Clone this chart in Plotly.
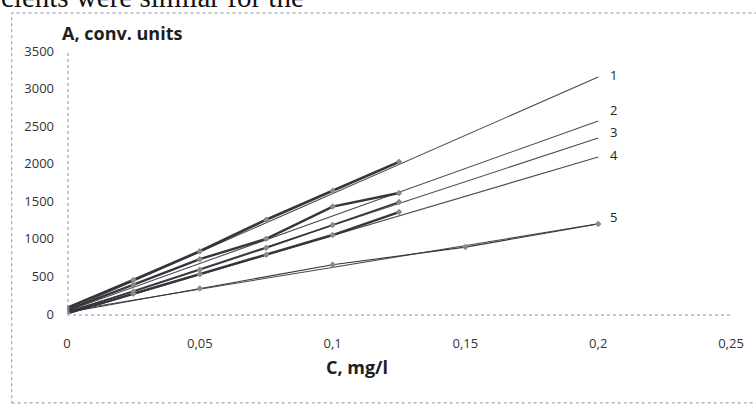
import plotly.graph_objects as go

# ---- data ----
conc = [0, 0.025, 0.05, 0.075, 0.1, 0.125]
s1 = [80, 452, 835, 1255, 1640, 2025]
s2 = [50, 390, 730, 1000, 1430, 1610]
s3 = [30, 300, 590, 880, 1184, 1490]
s4 = [10, 270, 530, 790, 1051, 1357]
conc5 = [0, 0.05, 0.1, 0.15, 0.2]
s5 = [20, 340, 655, 890, 1198]

trend_x = [0, 0.2]
t1 = [50, 3154]
t2 = [40, 2569]
t3 = [20, 2342]
t4 = [0, 2089]
t5 = [40, 1200]

labels = ["1", "2", "3", "4", "5"]
label_y = [3180, 2720, 2420, 2110, 1290]

x_ticks = [0, 0.05, 0.1, 0.15, 0.2, 0.25]
x_ticktext = ["0", "0,05", "0,1", "0,15", "0,2", "0,25"]
y_ticks = [0, 500, 1000, 1500, 2000, 2500, 3000, 3500]

LINE = "#34353b"
TREND = "#4a4b52"
MARK = "#8a8a8a"
DOT = "#8a8f9c"

fig = go.Figure()

for tv in [t1, t2, t3, t4, t5]:
    fig.add_trace(go.Scatter(x=trend_x, y=tv, mode="lines",
                             line=dict(color=TREND, width=1.1),
                             showlegend=False, hoverinfo="skip"))

for sv, w in [(s1, 2.6), (s2, 2.4), (s3, 1.6), (s4, 2.4)]:
    fig.add_trace(go.Scatter(x=conc, y=sv, mode="lines+markers",
                             line=dict(color=LINE, width=w),
                             marker=dict(symbol="diamond", size=5, color=MARK),
                             showlegend=False))
fig.add_trace(go.Scatter(x=conc5, y=s5, mode="lines+markers",
                         line=dict(color=LINE, width=1.1),
                         marker=dict(symbol="diamond", size=5, color=MARK),
                         showlegend=False))

for lab, ly in zip(labels, label_y):
    fig.add_annotation(x=0.2035, y=ly, xref="x", yref="y", text=lab,
                       showarrow=False, xanchor="left", yanchor="middle",
                       font=dict(family="Open Sans", size=13, color="#222"))

# axis lines (dotted)
fig.add_shape(type="line", xref="paper", yref="paper", x0=0.0015, x1=0.0015, y0=0, y1=0.993,
              line=dict(color=DOT, width=1, dash="dot"))
fig.add_shape(type="line", xref="paper", yref="paper", x0=0, x1=1.003, y0=-0.004, y1=-0.004,
              line=dict(color=DOT, width=1, dash="dot"))
# outer chart border (dotted), right edge runs past the picture
fig.add_shape(type="rect", xref="paper", yref="paper", x0=-0.0832, x1=1.12,
              y0=-0.338, y1=1.1445, line=dict(color=DOT, width=1, dash="dot"))

# axis titles
fig.add_annotation(x=-0.01, y=1.07, xref="paper", yref="paper", text="<b>A, conv. units</b>",
                   showarrow=False, xanchor="left", yanchor="middle",
                   font=dict(family="Open Sans", size=18, color="#1e1e1e"))
fig.add_annotation(x=0.437, y=-0.2, xref="paper", yref="paper", text="<b>C, mg/l</b>",
                   showarrow=False, xanchor="center", yanchor="middle",
                   font=dict(family="Open Sans", size=18, color="#1e1e1e"))

# clipped line of document text above the chart
fig.add_annotation(x=-0.103, y=1.138, xref="paper", yref="paper",
                   text="cients were similar for the",
                   showarrow=False, xanchor="left", yanchor="bottom",
                   font=dict(family="Liberation Serif", size=29, color="#111"))

fig.update_layout(
    width=756, height=409,
    margin=dict(l=67, r=16, t=51, b=95),
    paper_bgcolor="white", plot_bgcolor="white",
    xaxis=dict(range=[0, 0.25], tickvals=x_ticks, ticktext=x_ticktext,
               showgrid=False, zeroline=False, showline=False,
               ticks="", ticklabelstandoff=20,
               tickfont=dict(family="Open Sans", size=13, color="#333")),
    yaxis=dict(range=[0, 3500], tickvals=y_ticks,
               showgrid=False, zeroline=False, showline=False,
               ticks="", ticklabelstandoff=12,
               tickfont=dict(family="Open Sans", size=13, color="#333")),
)

fig.write_html("out.html")
